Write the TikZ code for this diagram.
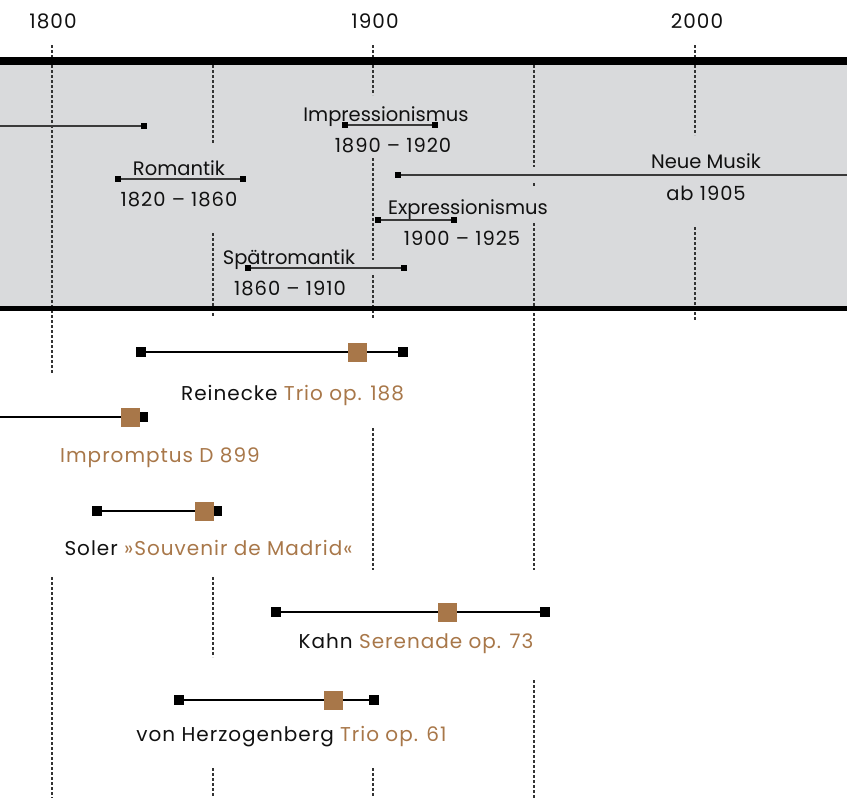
\documentclass[tikz,border=0pt]{standalone}
\usepackage{fontspec}
\setmainfont{Poppins}
\newfontfamily\widefont[LetterSpace=5]{Poppins}
\definecolor{bandgray}{HTML}{D9DADC}
\definecolor{brown}{HTML}{A87749}
\definecolor{gridc}{HTML}{333333}
\definecolor{plinec}{HTML}{3A3A3A}
\definecolor{txt}{HTML}{111111}
\tikzset{
  gridline/.style={draw=gridc, line width=1.2pt, dash pattern=on 3pt off 2pt},
  psq/.style={rectangle, fill=black, minimum size=6pt, inner sep=0pt},
  wsq/.style={rectangle, fill=black, minimum size=10pt, inner sep=0pt},
  comp/.style={rectangle, fill=brown, minimum size=19pt, inner sep=0pt},
  pline/.style={draw=plinec, line width=1.5pt},
  wline/.style={draw=black, line width=2.4pt},
  lab/.style={anchor=base, inner sep=0pt, text=txt, font=\fontsize{19.5}{22}\selectfont},
  dlab/.style={anchor=base, inner sep=0pt, text=txt, font=\widefont\fontsize{19.5}{22}\selectfont},
  wlab/.style={anchor=base, inner sep=0pt, text=txt, font=\widefont\fontsize{20}{22}\selectfont},
}
\begin{document}
\begin{tikzpicture}[x=1pt, y=-1pt]
\useasboundingbox (0,0) rectangle (847,798);
% band
\fill[bandgray] (0,61) rectangle (847,308);
% grid lines
\draw[gridline] (52,45) -- (52,374);
\draw[gridline] (52,577) -- (52,798);
\draw[gridline] (213,65) -- (213,143);
\draw[gridline] (213,233) -- (213,317);
\draw[gridline] (213,577) -- (213,657);
\draw[gridline] (213,768) -- (213,798);
\draw[gridline] (373,45) -- (373,95);
\draw[gridline] (373,158) -- (373,260);
\draw[gridline] (373,275) -- (373,318);
\draw[gridline] (373,428) -- (373,570);
\draw[gridline] (373,768) -- (373,798);
\draw[gridline] (534,65) -- (534,167);
\draw[gridline] (534,183) -- (534,187);
\draw[gridline] (534,223) -- (534,570);
\draw[gridline] (534,680) -- (534,798);
\draw[gridline] (695,45) -- (695,135);
\draw[gridline] (695,227) -- (695,320);
% thick rules
\fill[black] (0,57) rectangle (847,65);
\fill[black] (0,306) rectangle (847,311);
% year labels
\node[wlab] (y1800) at (53,28) {1800};
\node[wlab] (y1900) at (375,28) {1900};
\node[wlab] (y2000) at (697,28) {2000};
% periods
\coordinate (b0) at (0,126);
\node[psq] (b1) at (144,126) {};
\draw[pline] (b0) -- (b1);
\node[psq] (imp1) at (345,125) {};
\node[psq] (imp2) at (435,125) {};
\draw[pline] (imp1) -- (imp2);
\node[lab] (impl) at (386,121) {Impressionismus};
\node[dlab] (impd) at (393,152) {1890 – 1920};
\node[psq] (rom1) at (118,179) {};
\node[psq] (rom2) at (243,179) {};
\draw[pline] (rom1) -- (rom2);
\node[lab] (roml) at (179,175) {Romantik};
\node[dlab] (romd) at (179,206) {1820 – 1860};
\node[psq] (nm1) at (398,175) {};
\coordinate (nm2) at (847,175);
\draw[pline] (nm1) -- (nm2);
\node[lab] (nml) at (706,168) {Neue Musik};
\node[dlab] (nmd) at (706,200) {ab 1905};
\node[psq] (ex1) at (378,220) {};
\node[psq] (ex2) at (454,220) {};
\draw[pline] (ex1) -- (ex2);
\node[lab] (exl) at (468,214) {Expressionismus};
\node[dlab] (exd) at (462,245) {1900 – 1925};
\node[psq] (sr1) at (248,268) {};
\node[psq] (sr2) at (404,268) {};
\draw[pline] (sr1) -- (sr2);
\node[lab] (srl) at (289,264) {Spätromantik};
\node[dlab] (srd) at (290,295) {1860 – 1910};
% works
\node[wsq] (re1) at (141,352) {};
\node[wsq] (re2) at (403,352) {};
\draw[wline] (re1) -- (re2);
\node[comp] (rec) at (357.5,352) {};
\node[wlab] (rel) at (292.5,400) {Reinecke \textcolor{brown}{Trio op. 188}};
\coordinate (sc0) at (0,417);
\node[wsq] (sc1) at (143,417) {};
\draw[wline] (sc0) -- (sc1);
\node[comp] (scc) at (130.5,417) {};
\node[wlab] (scl) at (160,462) {\textcolor{brown}{Impromptus D 899}};
\node[wsq] (so1) at (97,511) {};
\node[wsq] (so2) at (217,511) {};
\draw[wline] (so1) -- (so2);
\node[comp] (soc) at (204.5,511) {};
\node[wlab] (sol) at (208.5,555) {Soler \textcolor{brown}{»Souvenir de Madrid«}};
\node[wsq] (ka1) at (276,612) {};
\node[wsq] (ka2) at (545,612) {};
\draw[wline] (ka1) -- (ka2);
\node[comp] (kac) at (447.5,612) {};
\node[wlab] (kal) at (416,648) {Kahn \textcolor{brown}{Serenade op. 73}};
\node[wsq] (he1) at (179,700) {};
\node[wsq] (he2) at (374,700) {};
\draw[wline] (he1) -- (he2);
\node[comp] (hec) at (333.5,700) {};
\node[wlab] (hel) at (291.5,741) {von Herzogenberg \textcolor{brown}{Trio op. 61}};
\end{tikzpicture}
\end{document}
